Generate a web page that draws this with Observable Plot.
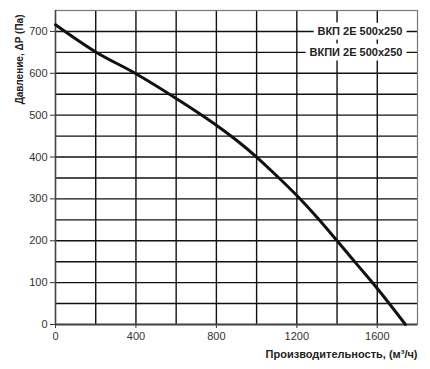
<!DOCTYPE html>
<html><head><meta charset="utf-8">
<script src="https://cdn.jsdelivr.net/npm/d3@7"></script>
<script src="https://cdn.jsdelivr.net/npm/@observablehq/plot@0.6"></script>
<style>body{margin:0;background:#fff;} svg{font-family:"Liberation Sans",Arial,sans-serif;}</style>
</head><body><div id="chart"></div>
<script>
const flow = [0, 200, 400, 600, 800, 900, 1000, 1100, 1200, 1300, 1400, 1500, 1600, 1740];
const pressure = [716, 651, 599, 540, 476, 440, 400, 355, 308, 256, 200, 143, 86, 0];
const xTicks = [0, 400, 800, 1200, 1600];
const yTicks = [0, 100, 200, 300, 400, 500, 600, 700];
const xGrid = [200, 400, 600, 800, 1000, 1200, 1400, 1600];
const yGrid = [50, 100, 150, 200, 250, 300, 350, 400, 450, 500, 550, 600, 650, 700];
const legendLabels = ["ВКП 2Е 500x250", "ВКПИ 2Е 500x250"];
const legendY = [700, 650];
const xTitle = "Производительность, (м³/ч)";
const yTitle = "Давление, ΔР (Па)";

const curve = flow.map((x, i) => ({x, y: pressure[i]}));
const legend = legendLabels.map((t, i) => ({t, y: legendY[i]}));

const chart = Plot.plot({
  width: 430, height: 369,
  marginLeft: 55, marginRight: 13, marginTop: 10, marginBottom: 45,
  style: {fontFamily: "Liberation Sans, Arial, sans-serif", fontSize: "11px", color: "#333"},
  x: {domain: [0, 1800], ticks: xTicks, tickFormat: d3.format("d"), tickSize: 4, tickPadding: 4, label: null},
  y: {domain: [0, 750], ticks: yTicks, tickFormat: d3.format("d"), tickSize: 5, tickPadding: 3, label: null},
  marks: [
    Plot.ruleX(xGrid, {stroke: "#111", strokeWidth: 1.4}),
    Plot.ruleY(yGrid, {stroke: "#111", strokeWidth: 1.4}),
    Plot.frame({stroke: "#777", strokeWidth: 1.2}),
    Plot.ruleY([0], {stroke: "#444", strokeWidth: 2}),
    Plot.ruleX([0], {stroke: "#444", strokeWidth: 1.5}),
    Plot.text(legend, {x: 1725, y: "y", text: "t", textAnchor: "end", fontWeight: "bold", fontSize: 11,
      fill: "#222", stroke: "white", strokeWidth: 9, paintOrder: "stroke"}),
    Plot.line(curve, {x: "x", y: "y", stroke: "#111", strokeWidth: 3, curve: "monotone-x"}),
    Plot.text([xTitle], {frameAnchor: "bottom-right", text: d => d, textAnchor: "end", dy: 33, dx: 0,
      fontWeight: "bold", fontSize: 11, fill: "#222"}),
    Plot.text([yTitle], {frameAnchor: "top-left", text: d => d, textAnchor: "end", rotate: -90, dx: -40, dy: 4,
      fontWeight: "bold", fontSize: 10, fill: "#222"})
  ]
});
document.getElementById("chart").appendChild(chart);
</script></body></html>
